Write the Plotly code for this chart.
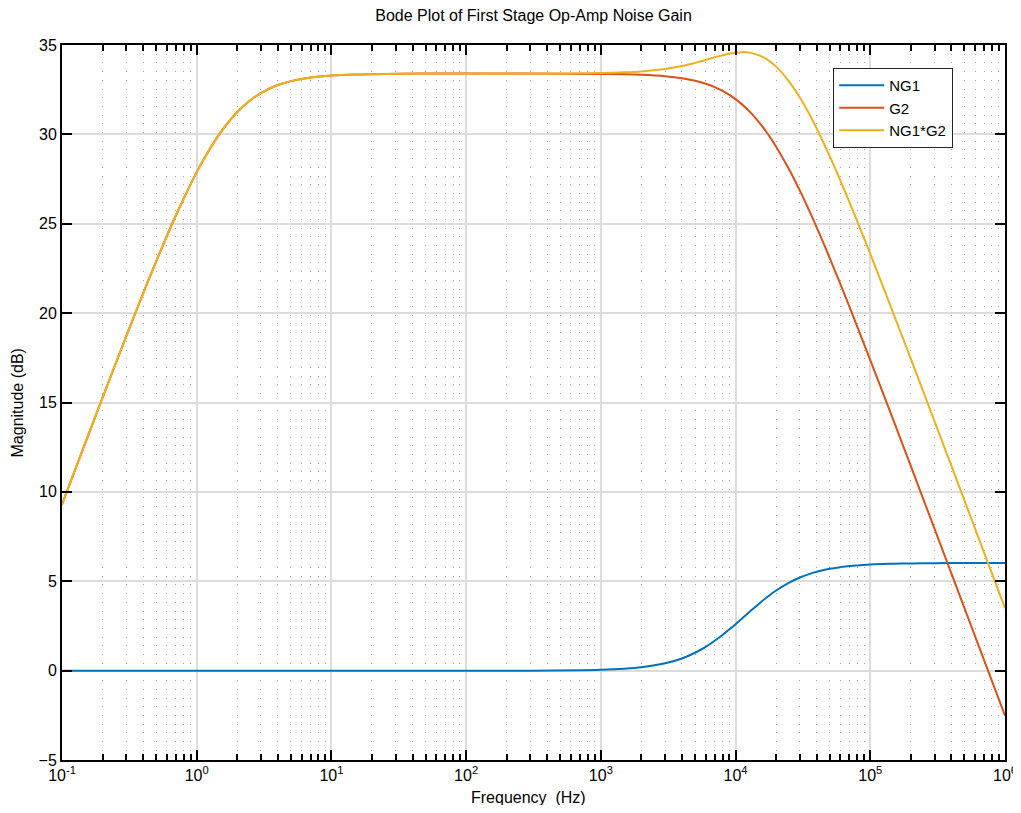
import plotly.graph_objects as go

freq = [0.1, 0.15, 0.2, 0.3, 0.4, 0.5, 0.7,
        1, 1.2, 1.5, 2, 2.5, 3, 4, 5, 7,
        10, 15, 20, 50, 100, 300,
        1000, 1500, 2000, 3000, 4000, 5000, 6000, 7000, 8000, 9000,
        10000, 11000, 12000, 13000, 15000, 17000, 20000, 25000, 30000, 35000,
        40000, 50000, 60000, 70000,
        100000, 150000, 200000, 300000, 500000, 1000000]

ng1 = [0, 0, 0, 0, 0, 0, 0,
       0, 0, 0, 0, 0, 0, 0, 0, 0,
       0, 0, 0, 0, 0, 0.0,
       0.05, 0.11, 0.19, 0.41, 0.68, 1.0, 1.33, 1.67, 1.99, 2.31,
       2.6, 2.88, 3.13, 3.36, 3.76, 4.09, 4.48, 4.92, 5.21, 5.4,
       5.53, 5.7, 5.79, 5.85,
       5.94, 5.98, 6.0, 6.01, 6.02, 6.02]

g2 = [9.3, 12.8, 15.27, 18.71, 21.1, 22.89, 25.46,
      27.89, 28.96, 30.1, 31.25, 31.91, 32.31, 32.76, 32.98, 33.18,
      33.29, 33.35, 33.37, 33.4, 33.4, 33.4,
      33.38, 33.36, 33.33, 33.25, 33.14, 33.0, 32.83, 32.64, 32.43, 32.21,
      31.97, 31.72, 31.46, 31.2, 30.66, 30.12, 29.31, 28.03, 26.85, 25.78,
      24.8, 23.08, 21.62, 20.36,
      17.37, 13.91, 11.44, 7.93, 3.5, -2.52]

ng1_g2 = [9.3, 12.8, 15.27, 18.71, 21.1, 22.89, 25.46,
          27.89, 28.96, 30.1, 31.25, 31.91, 32.31, 32.76, 32.98, 33.18,
          33.29, 33.35, 33.37, 33.4, 33.4, 33.4,
          33.43, 33.47, 33.52, 33.66, 33.82, 34.0, 34.16, 34.31, 34.42, 34.52,
          34.57, 34.6, 34.6, 34.56, 34.42, 34.21, 33.79, 32.95, 32.06, 31.18,
          30.33, 28.78, 27.41, 26.21,
          23.31, 19.89, 17.44, 13.94, 9.52, 3.5]

series_names = ["NG1", "G2", "NG1*G2"]
series_colors = ["#0072BD", "#D95319", "#EDB120"]

x_tickvals = [0.1, 1, 10, 100, 1000, 10000, 100000, 1000000]
x_ticktext = ["10<sup>-1</sup>", "10<sup>0</sup>", "10<sup>1</sup>", "10<sup>2</sup>",
              "10<sup>3</sup>", "10<sup>4</sup>", "10<sup>5</sup>", "10<sup>6</sup>"]
y_tickvals = [-5, 0, 5, 10, 15, 20, 25, 30, 35]

minor_vals = [m * d for d in x_tickvals[:-1] for m in range(2, 10)]

fig = go.Figure()
for name, vals, col in zip(series_names, [ng1, g2, ng1_g2], series_colors):
    fig.add_trace(go.Scatter(x=freq, y=vals, mode="lines", name=name,
                             line=dict(color=col, width=2, shape="spline", smoothing=0.8)))

font_family = "Liberation Sans, Arial, Helvetica, sans-serif"

fig.update_layout(
    width=1013, height=797,
    margin=dict(l=54, r=16, t=37, b=45),
    paper_bgcolor="white", plot_bgcolor="white",
    font=dict(family=font_family, size=16, color="black"),
    title=dict(text="Bode Plot of First Stage Op-Amp Noise Gain", x=0.5, xref="paper",
               y=0.9905, yref="container", xanchor="center", yanchor="middle",
               font=dict(size=16, color="black")),
    showlegend=True,
    legend=dict(x=0.8176, y=0.968, xanchor="left", yanchor="top",
                bgcolor="white", bordercolor="#262626", borderwidth=1.2,
                font=dict(size=15), tracegroupgap=0, itemwidth=45),
    annotations=[
        dict(text="Frequency  (Hz)", xref="paper", yref="paper", x=0.4947, y=-0.0525,
             xanchor="center", yanchor="middle", showarrow=False,
             font=dict(size=16)),
        dict(text="Magnitude (dB)", xref="paper", yref="paper", x=-0.0467, y=0.50,
             xanchor="center", yanchor="middle", textangle=-90, showarrow=False,
             font=dict(size=16)),
    ],
)

fig.update_xaxes(
    type="log", range=[-1, 6], automargin=False,
    tickvals=x_tickvals, ticktext=x_ticktext,
    ticks="inside", ticklen=10, tickwidth=2, tickcolor="black",
    showline=True, linecolor="black", linewidth=2, mirror="allticks",
    showgrid=True, gridcolor="#dcdcdc", gridwidth=1.5,
    zeroline=False, ticklabeloverflow="allow",
    tickfont=dict(size=16),
    minor=dict(tickvals=minor_vals, ticks="inside", ticklen=6, tickcolor="black",
               tickwidth=1.5, showgrid=True, gridcolor="#a8a8a8", griddash="1px,7.7px",
               gridwidth=1),
)
fig.update_yaxes(
    range=[-5, 35], tickvals=y_tickvals, automargin=False,
    ticks="inside", ticklen=10, tickwidth=2, tickcolor="black",
    showline=True, linecolor="black", linewidth=2, mirror="allticks",
    showgrid=True, gridcolor="#dcdcdc", gridwidth=1.5,
    zeroline=False,
    tickfont=dict(size=16),
)

fig.write_html("out.html")
